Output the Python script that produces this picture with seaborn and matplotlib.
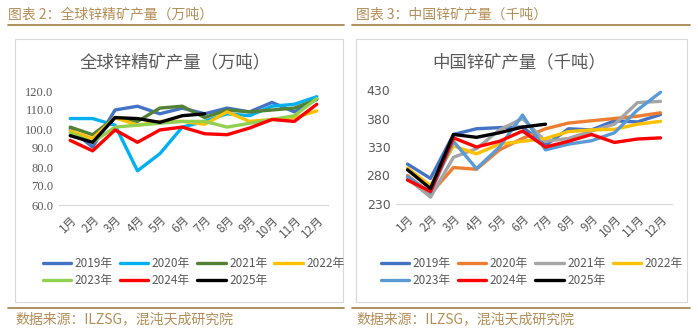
import matplotlib
matplotlib.use("Agg")
import matplotlib.pyplot as plt
import seaborn as sns
import pandas as pd
from matplotlib.patches import Rectangle
from matplotlib.lines import Line2D

sns.set_style("white")
plt.rcParams['font.family'] = ['Noto Sans CJK SC', 'DejaVu Sans']

months = ["1月", "2月", "3月", "4月", "5月", "6月", "7月", "8月", "9月", "10月", "11月", "12月"]
years = ["2019年", "2020年", "2021年", "2022年", "2023年", "2024年", "2025年"]

# Global zinc concentrate output (10k t)
g2019 = [100, 90.5, 110, 112, 108, 111, 108, 111, 109, 114, 109, 116]
g2020 = [105.5, 105.5, 102, 78, 87, 101, 104, 108, 107, 112, 113, 117]
g2021 = [101, 97, 106, 104, 111, 112, 106, 110, 109, 110, 111, 115.5]
g2022 = [99, 95, 106, 102, 104, 104, 102.5, 109, 104, 105, 106, 109.5]
g2023 = [98, 93, 101, 102, 103, 104, 104, 101, 103, 105, 107, 116]
g2024 = [94, 88.5, 99.5, 93, 99.5, 101, 97.5, 97, 100.5, 105, 104, 113]
g2025 = [96.5, 93, 106, 105.5, 103.5, 107, 108]

# China zinc mine output (kt)
c2019 = [300, 275, 352, 362, 364, 365, 333, 362, 360, 376, 374, 387]
c2020 = [280, 248, 294, 291, 325, 345, 362, 372, 376, 380, 384, 390]
c2021 = [275, 242, 312, 327, 360, 380, 340, 345, 358, 370, 408, 410]
c2022 = [293, 262, 332, 318, 335, 340, 345, 357, 360, 361, 370, 375]
c2023 = [278, 250, 340, 292, 330, 386, 325, 335, 341, 355, 395, 426]
c2024 = [272, 252, 346, 330, 340, 358, 330, 340, 352, 338, 344, 346]
c2025 = [290, 257, 352, 347, 355, 365, 370]

global_series = [g2019, g2020, g2021, g2022, g2023, g2024, g2025]
china_series = [c2019, c2020, c2021, c2022, c2023, c2024, c2025]

colors_g = ["#4472C4", "#00B0F0", "#548235", "#FFC000", "#92D050", "#FF0000", "#000000"]
colors_c = ["#4472C4", "#ED7D31", "#A5A5A5", "#FFC000", "#5B9BD5", "#FF0000", "#000000"]


def to_df(series):
    rows = []
    for y, vals in zip(years, series):
        for i, v in enumerate(vals):
            rows.append({"month": i, "year": y, "value": v})
    return pd.DataFrame(rows)


W, H = 698, 330
fig = plt.figure(figsize=(W / 100, H / 100), dpi=100)

hdr_color = "#B38E57"
line_color = "#A8884F"
tick_color = "#595959"


def fx(px):
    return px / W


def fy(py):
    return 1 - py / H


# headers
fig.text(fx(8), fy(14), "图表 2：全球锌精矿产量（万吨）", color=hdr_color, fontsize=10, va="center", ha="left")
fig.text(fx(356), fy(14), "图表 3：中国锌矿产量（千吨）", color=hdr_color, fontsize=10, va="center", ha="left")
fig.add_artist(Line2D([fx(8), fx(344)], [fy(25), fy(25)], color=line_color, lw=1.3))
fig.add_artist(Line2D([fx(352), fx(690)], [fy(25), fy(25)], color=line_color, lw=1.3))
# panel boxes
fig.add_artist(Rectangle((fx(15), fy(302)), fx(343 - 15), (302 - 39) / H, fill=False, edgecolor="#D9D9D9", lw=0.8))
fig.add_artist(Rectangle((fx(356), fy(302)), fx(687 - 356), (302 - 39) / H, fill=False, edgecolor="#D9D9D9", lw=0.8))
# footer
fig.add_artist(Line2D([fx(8), fx(344)], [fy(308), fy(308)], color=line_color, lw=1.3))
fig.add_artist(Line2D([fx(352), fx(690)], [fy(308), fy(308)], color=line_color, lw=1.3))
fig.text(fx(15), fy(319), "数据来源：ILZSG，混沌天成研究院", color=hdr_color, fontsize=10, va="center", ha="left")
fig.text(fx(356), fy(319), "数据来源：ILZSG，混沌天成研究院", color=hdr_color, fontsize=10, va="center", ha="left")

# legend order so that rows read 2019..2022 / 2023..2025
leg_order = [0, 4, 1, 5, 2, 6, 3]


def draw(ax_rect, series, colors, ylim, yticks, fmt, title, title_x, leg_x, ticklabel_family, yfs):
    ax = fig.add_axes(ax_rect)
    df = to_df(series)
    sns.lineplot(data=df, x="month", y="value", hue="year", palette=colors, hue_order=years,
                 lw=2.4, ax=ax, legend=False)
    ax.set_xlim(-0.5, 11.5)
    ax.set_ylim(*ylim)
    ax.set_yticks(yticks)
    ax.set_yticklabels([fmt.format(t) for t in yticks], color=tick_color, fontsize=yfs,
                       family=ticklabel_family)
    ax.set_xticks(range(12))
    ax.set_xticklabels(months, rotation=45, ha="right", rotation_mode="anchor",
                       color=tick_color, fontsize=8.5)
    ax.tick_params(length=0, pad=4)
    ax.tick_params(axis="x", pad=6)
    ax.set_xlabel("")
    ax.set_ylabel("")
    for s in ["top", "right", "left"]:
        ax.spines[s].set_visible(False)
    ax.spines["bottom"].set_color("#D9D9D9")
    ax.spines["bottom"].set_linewidth(0.9)
    fig.text(fx(title_x), fy(62), title, fontsize=12.5, color="#595959", ha="center", va="center")
    handles = [Line2D([0], [0], color=c, lw=2.4) for c in colors]
    fig.legend([handles[i] for i in leg_order], [years[i] for i in leg_order],
               loc="upper left", bbox_to_anchor=(fx(leg_x), fy(257)), ncol=4,
               frameon=False, fontsize=8.5, handlelength=2.4, handletextpad=0.3, columnspacing=0.6,
               labelspacing=0.35, labelcolor=tick_color, borderaxespad=0, borderpad=0)
    return ax


draw([fx(59), fy(205), fx(328 - 59), 114 / H], global_series, colors_g, (60, 120),
     [60, 70, 80, 90, 100, 110, 120], "{:.1f}", "全球锌精矿产量（万吨）", 175, 43,
     ["Liberation Serif", "DejaVu Serif"], 9)
draw([fx(396), fy(204), fx(672 - 396), 114 / H], china_series, colors_c, (230, 430),
     [230, 280, 330, 380, 430], "{:d}", "中国锌矿产量（千吨）", 519, 381,
     ["DejaVu Sans"], 9)

fig.savefig("out.png", dpi=100)
